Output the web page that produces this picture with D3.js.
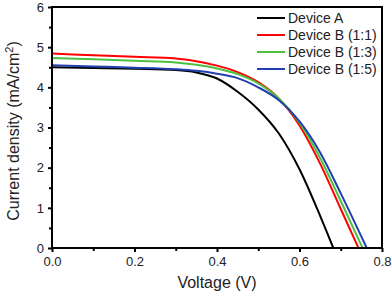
<!DOCTYPE html>
<html>
<head>
<meta charset="utf-8">
<script src="https://cdn.jsdelivr.net/npm/d3@7"></script>
<style>
  body { margin: 0; background: #fff; }
  text { font-family: "Liberation Sans", Arial, sans-serif; }
</style>
</head>
<body>
<div id="chart"></div>
<script>
// J-V curves
const seriesNames = ["Device A", "Device B (1:1)", "Device B (1:3)", "Device B (1:5)"];
const seriesColors = ["#000000", "#ff0000", "#4cc040", "#2040b0"];

const voltA = [0, 0.1, 0.2, 0.3, 0.35, 0.4, 0.45, 0.5, 0.55, 0.6, 0.65, 0.682];
const currA = [4.50, 4.48, 4.46, 4.43, 4.37, 4.22, 3.89, 3.45, 2.85, 1.96, 0.80, 0];

const voltB1 = [0, 0.1, 0.2, 0.3, 0.35, 0.4, 0.45, 0.5, 0.55, 0.6, 0.65, 0.7, 0.743];
const currB1 = [4.84, 4.80, 4.76, 4.72, 4.65, 4.54, 4.38, 4.13, 3.72, 3.05, 2.10, 0.97, 0];

const voltB3 = [0, 0.1, 0.2, 0.3, 0.35, 0.4, 0.45, 0.5, 0.55, 0.6, 0.65, 0.7, 0.753];
const currB3 = [4.73, 4.70, 4.66, 4.62, 4.56, 4.47, 4.33, 4.10, 3.72, 3.12, 2.24, 1.17, 0];

const voltB5 = [0, 0.1, 0.2, 0.3, 0.35, 0.4, 0.45, 0.5, 0.55, 0.6, 0.65, 0.7, 0.763];
const currB5 = [4.55, 4.52, 4.49, 4.45, 4.41, 4.34, 4.23, 4.00, 3.68, 3.15, 2.38, 1.36, 0];

const xTicks = [0, 0.2, 0.4, 0.6, 0.8];
const yTicks = [0, 1, 2, 3, 4, 5, 6];

const series = [
  {name: seriesNames[0], color: seriesColors[0], v: voltA, j: currA},
  {name: seriesNames[1], color: seriesColors[1], v: voltB1, j: currB1},
  {name: seriesNames[2], color: seriesColors[2], v: voltB3, j: currB3},
  {name: seriesNames[3], color: seriesColors[3], v: voltB5, j: currB5}
];

const width = 392, height = 298;
const margin = {top: 7, right: 10, bottom: 50, left: 52};

const x = d3.scaleLinear().domain([0, 0.8]).range([margin.left, width - margin.right]);
const y = d3.scaleLinear().domain([0, 6]).range([height - margin.bottom, margin.top]);

const svg = d3.select("#chart").append("svg")
    .attr("width", width)
    .attr("height", height);

// curves
const line = d3.line()
    .x(d => x(d[0]))
    .y(d => y(d[1]))
    .curve(d3.curveMonotoneX);

svg.append("g")
  .selectAll("path")
  .data(series)
  .join("path")
    .attr("fill", "none")
    .attr("stroke", d => d.color)
    .attr("stroke-width", 2)
    .attr("d", d => line(d.v.map((v, i) => [v, d.j[i]])));

// frame
svg.append("rect")
    .attr("x", x(0)).attr("y", y(6))
    .attr("width", x(0.8) - x(0)).attr("height", y(0) - y(6))
    .attr("fill", "none").attr("stroke", "#000").attr("stroke-width", 2);

// axes
const xAxis = svg.append("g")
    .attr("transform", `translate(0,${y(0)})`)
    .call(d3.axisBottom(x).tickValues(xTicks).tickFormat(d3.format(".1f")).tickSize(4).tickPadding(5));
const xMinor = svg.append("g")
    .attr("transform", `translate(0,${y(0)})`)
    .call(d3.axisBottom(x).tickValues([0.1, 0.3, 0.5, 0.7]).tickFormat("").tickSize(3));

const yAxis = svg.append("g")
    .attr("transform", `translate(${x(0)},0)`)
    .call(d3.axisLeft(y).tickValues(yTicks).tickFormat(d3.format("d")).tickSize(4).tickPadding(4));
const yMinor = svg.append("g")
    .attr("transform", `translate(${x(0)},0)`)
    .call(d3.axisLeft(y).tickValues([0.5, 1.5, 2.5, 3.5, 4.5, 5.5]).tickFormat("").tickSize(3));

[xAxis, xMinor, yAxis, yMinor].forEach(g => {
  g.select(".domain").remove();
  g.selectAll("line").attr("stroke", "#000").attr("stroke-width", 2);
  g.selectAll("text").attr("font-size", 13).attr("fill", "#222")
    .style("font-family", "'Liberation Sans', Arial, sans-serif");
});

// axis titles
svg.append("text")
    .attr("x", (x(0) + x(0.8)) / 2)
    .attr("y", 288)
    .attr("text-anchor", "middle")
    .attr("font-size", 16)
    .attr("fill", "#222")
    .text("Voltage (V)");

const yt = svg.append("text")
    .attr("transform", `translate(19,131) rotate(-90)`)
    .attr("text-anchor", "middle")
    .attr("font-size", 16)
    .attr("fill", "#222");
yt.append("tspan").text("Current density (mA/cm");
yt.append("tspan").attr("dy", -6).attr("font-size", 11).text("2");
yt.append("tspan").attr("dy", 6).text(")");

// legend
const legend = svg.append("g")
  .selectAll("g")
  .data(series)
  .join("g")
    .attr("transform", (d, i) => `translate(257,${18 + i * 17})`);

legend.append("line")
    .attr("x1", 0).attr("x2", 28)
    .attr("stroke", d => d.color)
    .attr("stroke-width", 2);

legend.append("text")
    .attr("x", 31)
    .attr("dy", "0.35em")
    .attr("font-size", 14)
    .attr("fill", "#222")
    .text(d => d.name);
</script>
</body>
</html>
